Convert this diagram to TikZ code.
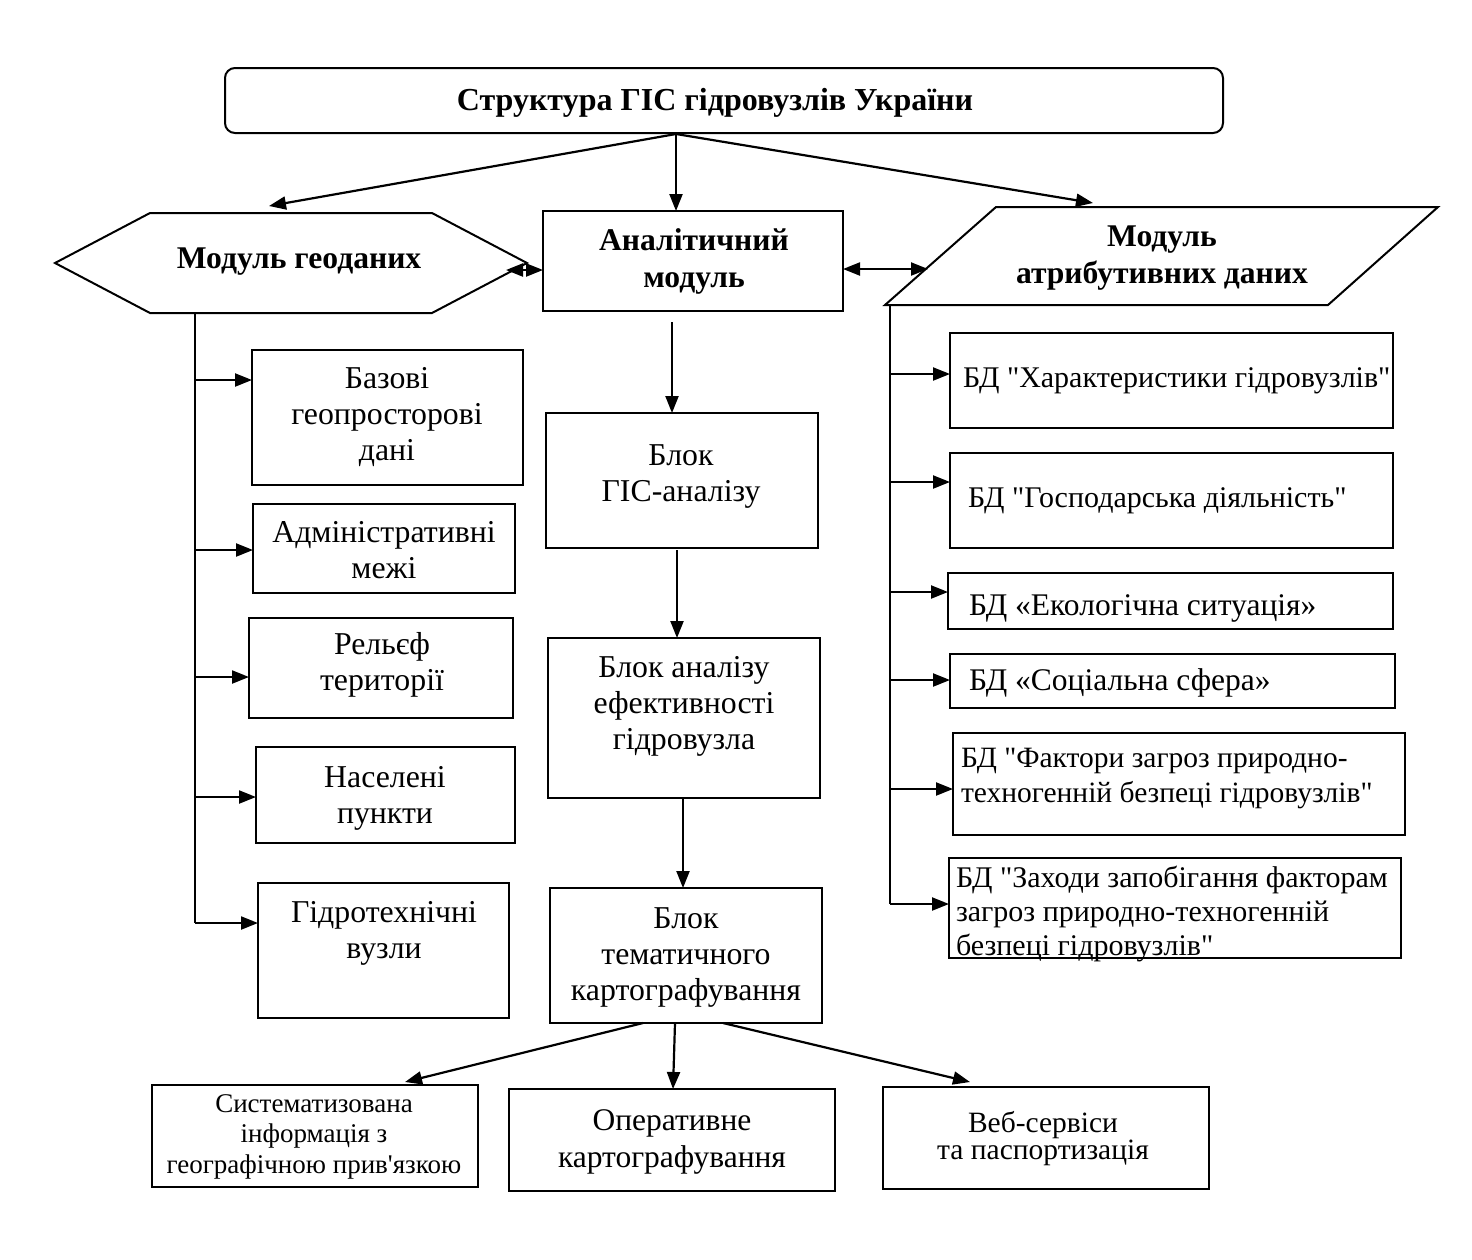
\documentclass[tikz,border=0pt]{standalone}
\usepackage{fontspec}
\setmainfont{Liberation Serif}[Ligatures=TeXOff]
\usetikzlibrary{arrows.meta}
\newcommand{\zs}{\rule[-0.25em]{0pt}{1em}}
\newcommand{\tightls}{\lineskiplimit=-50pt\relax}
\begin{document}
\begin{tikzpicture}[x=1pt,y=-1pt,
  every node/.style={inner sep=0pt, outer sep=0pt},
  box/.style={draw, line width=2pt, rectangle},
  shp/.style={draw, line width=2pt},
  txt/.style={font=\fontsize{31.8}{36}\selectfont, align=center},
  btxt/.style={font=\bfseries\fontsize{31.6}{37}\selectfont, align=center},
  rtxt/.style={font=\fontsize{30}{34}\selectfont, align=left},
  conn/.style={line width=2.2pt, -{Triangle[length=17pt,width=13pt]}},
  dconn/.style={line width=2.2pt, {Triangle[length=17pt,width=13pt]}-{Triangle[length=17pt,width=13pt]}},
]
\fill[white] (0,0) rectangle (1472,1259);
\useasboundingbox (0,0) rectangle (1472,1259);

% title
\node[box, rounded corners=10pt, minimum width=998, minimum height=65] (title) at (724,100.5) {};
\node[btxt, font=\bfseries\fontsize{32}{37}\selectfont, anchor=base] (titlet) at (715,110) {Структура ГІС гідровузлів України};

% hexagon: geodata module
\draw[shp] (55,263) -- (150,213) -- (432,213) -- (527,263) -- (432,313) -- (150,313) -- cycle;
\node[btxt, anchor=base] (geot) at (299,268) {Модуль геоданих};

% analytical module
\node[box, minimum width=300, minimum height=100] (anal) at (693,261) {};
\node[btxt] (analt) at (694,260.6) {\zs Аналітичний\\модуль\zs};

% parallelogram: attribute data module
\draw[shp] (996,207) -- (1438,207) -- (1328,305) -- (885,305) -- cycle;
\node[btxt] (attrt) at (1162,256.6) {\zs Модуль\\атрибутивних даних\zs};

% title connectors
\coordinate (ts) at (676,134);
\coordinate (geoT) at (269,206);
\coordinate (attrT) at (1093,203);
\draw[conn] (ts) -- (geoT);
\draw[conn] (ts) -- (ts |- anal.north);
\draw[conn] (ts) -- (attrT);

% double arrows
\coordinate (geoR) at (506,270);
\coordinate (attrL) at (928,269);
\draw[dconn] (geoR) -- (geoR -| anal.west);
\draw[dconn] (attrL -| anal.east) -- (attrL);

% left column
\node[box, minimum width=271, minimum height=135] (L1) at (387.5,417.5) {};
\node[txt] (L1t) at (387,416.6) {\zs Базові\\геопросторові\\дані\zs};
\node[box, minimum width=262, minimum height=89] (L2) at (384,548.5) {};
\node[txt] (L2t) at (384,552.6) {\zs Адміністративні\\межі\zs};
\node[box, minimum width=264, minimum height=100] (L3) at (381,668) {};
\node[txt] (L3t) at (382,664.1) {\zs Рельєф\\території\zs};
\node[box, minimum width=259, minimum height=96] (L4) at (385.5,795) {};
\node[txt] (L4t) at (385,797.1) {\zs Населені\\пункти\zs};
\node[box, minimum width=251, minimum height=135] (L5) at (383.5,950.5) {};
\node[txt] (L5t) at (384,932.1) {\zs Гідротехнічні\\вузли\zs};

\coordinate (geoB) at (195,313);
\coordinate (lt1) at (195,380);
\coordinate (lt2) at (195,550);
\coordinate (lt3) at (195,677);
\coordinate (lt4) at (195,797);
\coordinate (lt5) at (195,923);
\draw[line width=2.2pt] (geoB) -- (lt5);
\draw[conn] (lt1) -- (lt1 -| L1.west);
\draw[conn] (lt2) -- (lt2 -| L2.west);
\draw[conn] (lt3) -- (lt3 -| L3.west);
\draw[conn] (lt4) -- (lt4 -| L4.west);
\draw[conn] (lt5) -- (lt5 -| L5.west);

% center column
\node[box, minimum width=272, minimum height=135] (gis) at (682,480.5) {};
\node[txt] (gist) at (681,475.1) {\zs Блок\\ГІС-аналізу\zs};
\node[box, minimum width=272, minimum height=160] (eff) at (684,718) {};
\node[txt] (efft) at (684,705.1) {\zs Блок аналізу\\ефективності\\гідровузла\zs};
\node[box, minimum width=272, minimum height=135] (tem) at (686,955.5) {};
\node[txt] (temt) at (686,956.1) {\zs Блок\\тематичного\\картографування\zs};

\coordinate (a1) at (672,322);
\coordinate (g1) at (677,550);
\coordinate (e1) at (683,798);
\draw[conn] (a1) -- (a1 |- gis.north);
\draw[conn] (g1) -- (g1 |- eff.north);
\draw[conn] (e1) -- (e1 |- tem.north);

% bottom row
\node[box, minimum width=326, minimum height=102] (sys) at (315,1136) {};
\node[align=center, font=\fontsize{27}{30.5}\selectfont] (syst) at (314,1135.75) {\zs Систематизована\\інформація з\\географічною прив\textquotesingle язкою\zs};
\node[box, minimum width=326, minimum height=102] (oper) at (672,1140) {};
\node[align=center, font=\fontsize{31.5}{37}\selectfont] (opert) at (672,1141.6) {\zs Оперативне\\картографування\zs};
\node[box, minimum width=326, minimum height=102] (web) at (1046,1138) {};
\node[align=center, font={\fontsize{29.5}{27}\selectfont\tightls}] (webt) at (1043,1139.1) {\zs Веб-сервіси\\та паспортизація\zs};

\coordinate (t1) at (643,1023);
\coordinate (t2) at (675,1023);
\coordinate (t3) at (723,1023);
\coordinate (sysT) at (405,1082);
\coordinate (operT) at (673,1089);
\coordinate (webT) at (970,1082);
\draw[conn] (t1) -- (sysT);
\draw[conn] (t2) -- (operT);
\draw[conn] (t3) -- (webT);

% right column
\node[box, minimum width=443, minimum height=95] (R1) at (1171.5,380.5) {};
\node[rtxt, anchor=base west] (R1t) at (963,387) {БД "Характеристики гідровузлів"};
\node[box, minimum width=443, minimum height=95] (R2) at (1171.5,500.5) {};
\node[rtxt, anchor=base west] (R2t) at (968,507) {БД "Господарська діяльність"};
\node[box, minimum width=445, minimum height=56] (R3) at (1170.5,601) {};
\node[rtxt, font=\fontsize{31.5}{36}\selectfont, anchor=base west] (R3t) at (969,615) {БД «Екологічна ситуація»};
\node[box, minimum width=445, minimum height=54] (R4) at (1172.5,681) {};
\node[rtxt, font=\fontsize{31.5}{36}\selectfont, anchor=base west] (R4t) at (969,690) {БД «Соціальна сфера»};
\node[box, minimum width=452, minimum height=102] (R5) at (1179,784) {};
\node[rtxt, font=\fontsize{29.5}{35}\selectfont, anchor=west] (R5t) at (961,778.1) {\zs БД "Фактори загроз природно-\\техногенній безпеці гідровузлів"\zs};
\node[box, minimum width=452, minimum height=100] (R6) at (1175,908) {};
\node[rtxt, anchor=west] (R6t) at (956,913.5) {\zs БД "Заходи запобігання факторам\\загроз природно-техногенній\\безпеці гідровузлів"\zs};

\coordinate (attrB) at (890,305);
\coordinate (rt1) at (890,374);
\coordinate (rt2) at (890,482);
\coordinate (rt3) at (890,592);
\coordinate (rt4) at (890,680);
\coordinate (rt5) at (890,789);
\coordinate (rt6) at (890,904);
\draw[line width=2.2pt] (attrB) -- (rt6);
\draw[conn] (rt1) -- (rt1 -| R1.west);
\draw[conn] (rt2) -- (rt2 -| R2.west);
\draw[conn] (rt3) -- (rt3 -| R3.west);
\draw[conn] (rt4) -- (rt4 -| R4.west);
\draw[conn] (rt5) -- (rt5 -| R5.west);
\draw[conn] (rt6) -- (rt6 -| R6.west);
\end{tikzpicture}
\end{document}
